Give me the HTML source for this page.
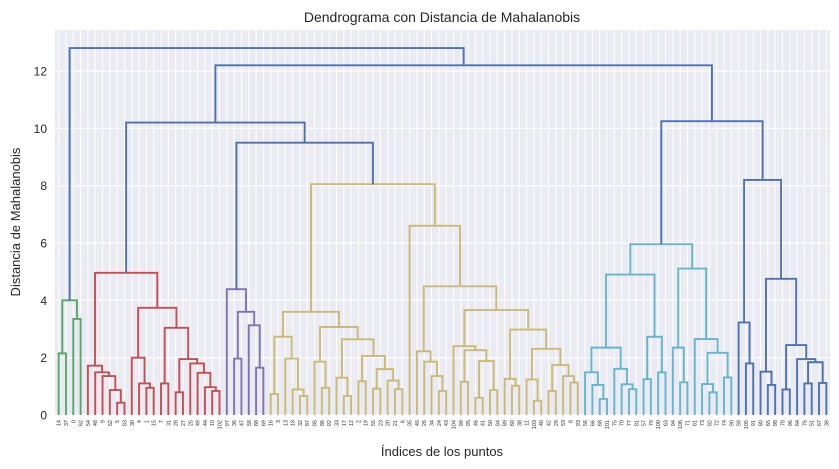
<!DOCTYPE html>
<html><head><meta charset="utf-8">
<style>
html,body{margin:0;padding:0;background:#fff;}
svg{display:block;font-family:"Liberation Sans",sans-serif;}
</style></head>
<body>
<svg id="chart" width="839" height="469" viewBox="0 0 839 469">
  <rect x="55" y="30" width="775" height="385" fill="#EAEAF2"/>
  <g id="grid"></g>
  <g id="links"></g>
  <g id="yticks"></g>
  <g id="xticks"></g>
  <text x="442" y="22" text-anchor="middle" font-size="14" fill="#262626">Dendrograma con Distancia de Mahalanobis</text>
  <text x="442" y="456" text-anchor="middle" font-size="13" fill="#262626">Índices de los puntos</text>
  <text transform="translate(20,222) rotate(-90)" text-anchor="middle" font-size="13" fill="#262626">Distancia de Mahalanobis</text>
</svg>
<script>
const yTicks = [0, 2, 4, 6, 8, 10, 12];
const leafLabels = [14,37,0,62,54,48,9,52,5,83,30,4,1,15,7,31,28,27,25,49,44,10,102,97,36,47,58,88,69,16,3,13,18,32,87,85,86,92,33,17,12,2,19,55,23,20,21,6,35,45,26,34,24,43,104,99,95,46,41,50,84,89,60,38,11,103,40,42,29,53,8,93,56,66,68,101,75,70,77,81,57,79,100,63,94,106,71,61,73,82,72,74,90,59,105,91,80,65,98,78,96,64,76,51,67,39];
const clusterColors = {green:"#55A868", red:"#C44E52", purple:"#8172B2", tan:"#CCB974", cyan:"#64B5CD", blue:"#4C72B0"};
const aboveColor = "#4C72B0";
// node: leaf index | [height, left, right] | {c: colorName, t: subtree}
const greenTree = [4.0,[2.15,0,1],[3.35,2,3]];
const redTree = [4.96,
  [1.72,4,[1.49,5,[1.36,6,[0.87,7,[0.43,8,9]]]]],
  [3.74,[2.0,10,[1.1,11,[0.95,12,13]]],
    [3.04,[1.1,14,15],[1.95,[0.79,16,17],[1.8,18,[1.47,19,[0.97,20,[0.84,21,22]]]]]]]];
const purpleTree = [4.39,23,[3.6,[1.97,24,25],[3.13,26,[1.65,27,28]]]];
const tanLeft = [3.6,
  [2.73,[0.73,29,30],[1.97,31,[0.89,32,[0.66,33,34]]]],
  [3.07,[1.86,35,[0.95,36,37]],
    [2.64,[1.3,38,[0.66,39,40]],
      [2.06,[1.18,41,42],[1.6,[0.92,43,44],[1.2,45,[0.9,46,47]]]]]]];
const tanRight = [6.6,48,[4.49,
  [2.22,49,[1.86,50,[1.36,51,[0.84,52,53]]]],
  [3.66,[2.4,54,[2.26,[1.16,55,56],[1.88,[0.6,57,58],[0.87,59,60]]]],
    [2.98,[1.26,61,[1.02,62,63]],[2.31,[1.24,64,[0.5,65,66]],[1.74,[0.84,67,68],[1.36,69,[1.13,70,71]]]]]]]];
const tanTree = [8.05, tanLeft, tanRight];
const cyanTree = [5.96,
  [4.9,[2.35,[1.49,72,[1.05,73,[0.56,74,75]]],[1.61,76,[1.07,77,[0.9,78,79]]]],[2.73,[1.25,80,81],[1.49,82,83]]],
  [5.11,[2.35,84,[1.14,85,86]],[2.65,87,[2.17,[1.08,88,[0.79,89,90]],[1.31,91,92]]]]];
const blueTree = [8.2,[3.23,93,[1.8,94,95]],
  [4.75,[1.51,96,[1.05,97,98]],[2.44,[0.89,99,100],[1.95,101,[1.84,[1.1,102,103],[1.12,104,105]]]]]];
const rootTree = [12.8,{c:"green",t:greenTree},
  [12.2,[10.2,{c:"red",t:redTree},[9.5,{c:"purple",t:purpleTree},{c:"tan",t:tanTree}]],
        [10.25,{c:"cyan",t:cyanTree},{c:"blue",t:blueTree}]]];

const NS = "http://www.w3.org/2000/svg";
const L = 55, R = 830, T = 30, B = 415;
const nLeaves = leafLabels.length;
function xs(i){ return L + (5 + 10*i) * (R - L) / (10*nLeaves); }
function ys(v){ return B - v * (B - 71) / 12; }

const grid = document.getElementById('grid');
for (let i = 0; i < nLeaves; i++) {
  const ln = document.createElementNS(NS,'line');
  ln.setAttribute('x1', xs(i)); ln.setAttribute('x2', xs(i));
  ln.setAttribute('y1', T); ln.setAttribute('y2', B);
  ln.setAttribute('stroke', '#fff'); ln.setAttribute('stroke-width', '1');
  
  
  grid.appendChild(ln);
}
const yg = document.getElementById('yticks');
yTicks.forEach(v => {
  const ln = document.createElementNS(NS,'line');
  ln.setAttribute('x1', L); ln.setAttribute('x2', R);
  ln.setAttribute('y1', ys(v)); ln.setAttribute('y2', ys(v));
  ln.setAttribute('stroke', '#fff'); ln.setAttribute('stroke-width', '1.2');
  
  
  grid.appendChild(ln);
  const t = document.createElementNS(NS,'text');
  t.setAttribute('x', L - 8); t.setAttribute('y', ys(v) + 4.5);
  t.setAttribute('text-anchor', 'end'); t.setAttribute('font-size', '12');
  t.setAttribute('fill', '#262626');
  t.textContent = v;
  
  
  yg.appendChild(t);
});
const xg = document.getElementById('xticks');
leafLabels.forEach((lab, i) => {
  const t = document.createElementNS(NS,'text');
  t.setAttribute('transform', 'translate(' + (xs(i) + 2) + ',420) rotate(-90)');
  t.setAttribute('text-anchor', 'end'); t.setAttribute('font-size', '5.5');
  t.setAttribute('fill', '#333');
  t.textContent = lab;
  
  
  xg.appendChild(t);
});

const links = document.getElementById('links');
function draw(node, color) {
  if (typeof node === 'number') return {x: xs(node), h: 0};
  if (!Array.isArray(node)) return draw(node.t, clusterColors[node.c]);
  const a = draw(node[1], color), b = draw(node[2], color);
  const y = ys(node[0]);
  const p = document.createElementNS(NS,'path');
  p.setAttribute('d', 'M' + a.x + ',' + ys(a.h) + 'V' + y + 'H' + b.x + 'V' + ys(b.h));
  p.setAttribute('fill', 'none'); p.setAttribute('stroke', color);
  p.setAttribute('stroke-width', '1.9');
  
  
  links.appendChild(p);
  return {x: (a.x + b.x) / 2, h: node[0]};
}
draw(rootTree, aboveColor);
</script>
</body></html>
